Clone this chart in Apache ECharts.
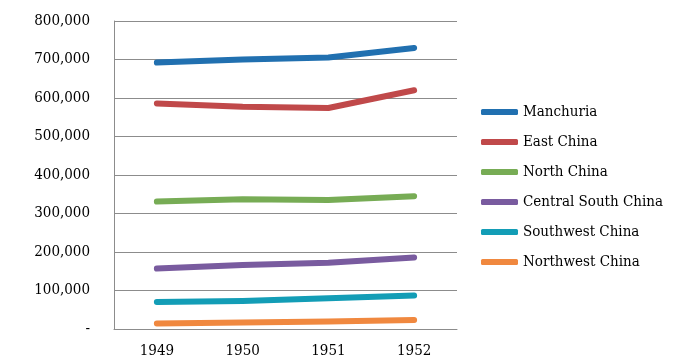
<!DOCTYPE html>
<html><head><meta charset="utf-8">
<script src="https://cdn.jsdelivr.net/npm/echarts@6/dist/echarts.min.js"></script>
<style>html,body{margin:0;padding:0;background:#fff}#c{width:691px;height:363px}</style>
</head><body><div id="c"></div>
<script>
const years = ['1949', '1950', '1951', '1952'];
const seriesNames = ['Manchuria', 'East China', 'North China', 'Central South China', 'Southwest China', 'Northwest China'];
const manchuria = [692000, 700000, 705000, 730000];
const eastChina = [586000, 577000, 574000, 620000];
const northChina = [331000, 337000, 335000, 345000];
const centralSouthChina = [157000, 166000, 172000, 186000];
const southwestChina = [70000, 73000, 80000, 87000];
const northwestChina = [14500, 17000, 19700, 23300];
const colors = ['#2170b0', '#c0494a', '#77ac55', '#795b9f', '#139db6', '#f0883f'];
const values = [manchuria, eastChina, northChina, centralSouthChina, southwestChina, northwestChina];

const font = '"DejaVu Serif Condensed", "DejaVu Serif", serif';
const chart = echarts.init(document.getElementById('c'));
chart.setOption({
  animation: false,
  color: colors,
  grid: { left: 114, right: 234, top: 21, bottom: 34 },
  legend: {
    orient: 'vertical', left: 476, top: 98,
    itemWidth: 37, itemHeight: 6, itemGap: 12,
    icon: 'roundRect',
    textStyle: { fontFamily: font, fontSize: 15, color: '#000', lineHeight: 18 },
    data: seriesNames
  },
  xAxis: {
    type: 'category', data: years, boundaryGap: true,
    axisLine: { lineStyle: { color: '#8c8c8c', width: 1 } },
    axisTick: { show: false },
    axisLabel: { fontFamily: font, fontSize: 15, color: '#000', margin: 15 }
  },
  yAxis: {
    type: 'value', min: 0, max: 800000, interval: 100000,
    axisLine: { show: true, lineStyle: { color: '#8c8c8c', width: 1 } },
    axisTick: { show: false },
    splitLine: { lineStyle: { color: '#8c8c8c', width: 1 } },
    axisLabel: {
      fontFamily: font, fontSize: 15, color: '#000', margin: 24,
      formatter: v => v === 0 ? '-' : v.toLocaleString('en-US')
    }
  },
  series: seriesNames.map((n, i) => ({
    name: n, type: 'line', data: values[i], showSymbol: false, symbol: 'none',
    lineStyle: { width: 6, cap: 'round', join: 'round' }
  }))
});
</script></body></html>
